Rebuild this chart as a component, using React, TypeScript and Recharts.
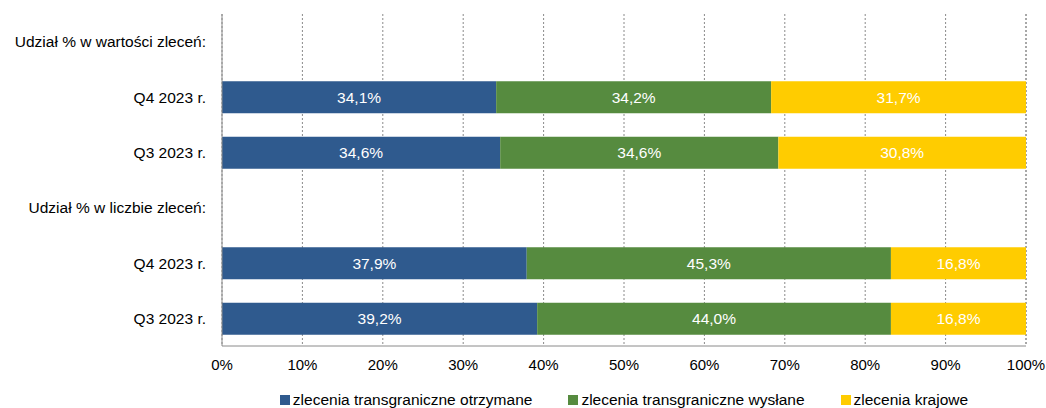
import { BarChart, Bar, XAxis, YAxis, CartesianGrid, Legend, LabelList } from "recharts";

const categories = [
  "Udział % w wartości zleceń:",
  "Q4 2023 r.",
  "Q3 2023 r.",
  "Udział % w liczbie zleceń:",
  "Q4 2023 r.",
  "Q3 2023 r.",
];
const received = [null, 34.1, 34.6, null, 37.9, 39.2];
const sent = [null, 34.2, 34.6, null, 45.3, 44.0];
const domestic = [null, 31.7, 30.8, null, 16.8, 16.8];
const xTicks = [0, 10, 20, 30, 40, 50, 60, 70, 80, 90, 100];

const series = [
  { key: "received", name: "zlecenia transgraniczne otrzymane", color: "#2F5A8E" },
  { key: "sent", name: "zlecenia transgraniczne wysłane", color: "#568B3F" },
  { key: "domestic", name: "zlecenia krajowe", color: "#FFCC00" },
];

const data = categories.map((label, i) => ({
  id: String(i),
  label,
  received: received[i],
  sent: sent[i],
  domestic: domestic[i],
}));

const FONT = "'Liberation Sans', Arial, sans-serif";

const fmt = (v: unknown) => (v == null ? "" : `${Number(v).toFixed(1).replace(".", ",")}%`);

function LegendContent() {
  return (
    <div
      style={{
        height: 36,
        marginLeft: 222,
        width: 804,
        display: "flex",
        justifyContent: "center",
        alignItems: "flex-end",
        gap: 36,
        fontFamily: FONT,
        fontSize: 15.5,
        color: "#000",
      }}
    >
      {series.map((s) => (
        <div key={s.key} style={{ display: "flex", alignItems: "center", lineHeight: "17px" }}>
          <span style={{ width: 10, height: 10, background: s.color, marginRight: 3, display: "inline-block" }} />
          {s.name}
        </div>
      ))}
    </div>
  );
}

export default function App() {
  return (
    <div style={{ width: 1046, height: 408, background: "#fff" }}>
      <style>{"body{margin:0}"}</style>
      <BarChart
        width={1046}
        height={408}
        data={data}
        layout="vertical"
        margin={{ top: 14, right: 20, bottom: 0, left: 0 }}
      >
        <CartesianGrid horizontal={false} stroke="#8a8a8a" strokeDasharray="2 2" />
        <XAxis
          type="number"
          domain={[0, 100]}
          ticks={xTicks}
          tickFormatter={(v) => `${v}%`}
          axisLine={{ stroke: "#8a8a8a" }}
          tickLine={false}
          tickSize={0}
          tickMargin={13}
          height={26}
          tick={{ fill: "#000", fontSize: 15, fontFamily: FONT }}
          interval={0}
        />
        <YAxis
          type="category"
          dataKey="id"
          width={222}
          tickFormatter={(v) => categories[Number(v)]}
          axisLine={{ stroke: "#8a8a8a" }}
          tickLine={false}
          tickSize={0}
          tickMargin={16}
          tick={{ fill: "#000", fontSize: 15.5, fontFamily: FONT }}
          interval={0}
        />
        <Legend verticalAlign="bottom" content={() => <LegendContent />} />
        {series.map((s) => (
          <Bar
            key={s.key}
            dataKey={s.key}
            name={s.name}
            stackId="a"
            fill={s.color}
            barSize={32}
            isAnimationActive={false}
          >
            <LabelList
              dataKey={s.key}
              position="center"
              formatter={fmt}
              fill="#fff"
              style={{ fontSize: 15.5, fontFamily: FONT }}
            />
          </Bar>
        ))}
      </BarChart>
    </div>
  );
}
